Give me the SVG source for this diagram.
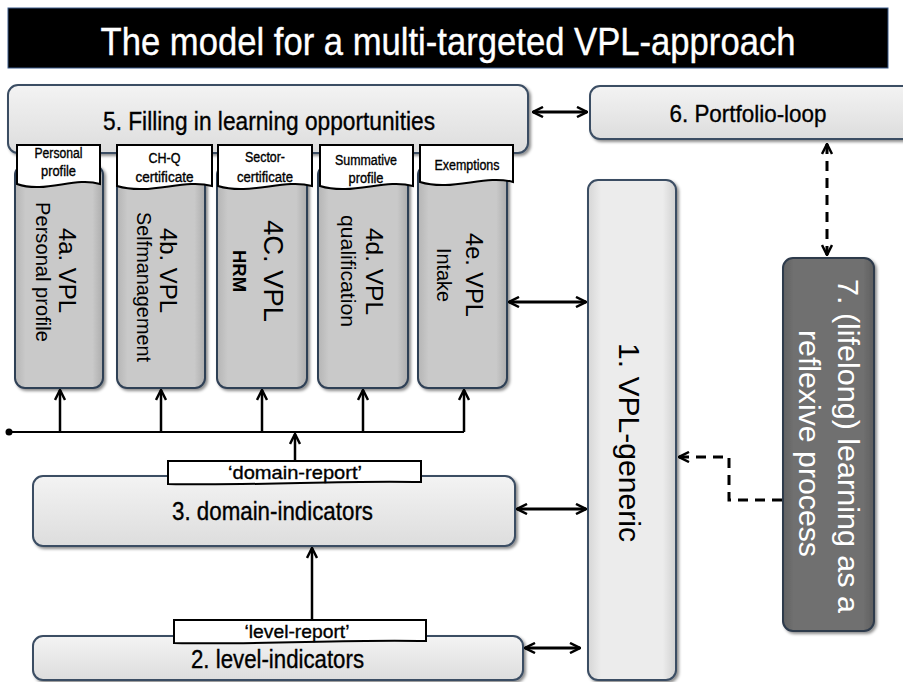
<svg xmlns="http://www.w3.org/2000/svg" width="903" height="682" viewBox="0 0 903 682">
<defs>
<style>
.t{font-family:"Liberation Sans","Arial",sans-serif;fill:#000;}
.n{font-family:"Liberation Sans Narrow","Arial Narrow","Liberation Sans",sans-serif;fill:#000;stroke:#000;stroke-width:0.35;}
.w{fill:#fff;}
.n.w{stroke:#fff;}
.box{fill:url(#lg);stroke:#3b4d63;stroke-width:2;filter:url(#sh);}
.col{fill:url(#cg);stroke:#2f3f55;stroke-width:2;filter:url(#sh);}
.doc{fill:#fff;stroke:#000;stroke-width:2;}
.ln{fill:none;stroke:#000;stroke-width:2.5;}
.dl{fill:none;stroke:#000;stroke-width:3;stroke-dasharray:10 7;}
</style>
<linearGradient id="lg" x1="0" y1="0" x2="0" y2="1"><stop offset="0" stop-color="#f3f3f3"/><stop offset="1" stop-color="#dddddd"/></linearGradient>
<linearGradient id="vg" x1="0" y1="0" x2="1" y2="0"><stop offset="0" stop-color="#d6d6d6"/><stop offset="0.15" stop-color="#ececec"/><stop offset="0.85" stop-color="#ececec"/><stop offset="1" stop-color="#d0d0d0"/></linearGradient>
<linearGradient id="cg" x1="0" y1="0" x2="1" y2="0"><stop offset="0" stop-color="#b5b5b5"/><stop offset="0.12" stop-color="#c9c9c9"/><stop offset="0.88" stop-color="#c9c9c9"/><stop offset="1" stop-color="#acacac"/></linearGradient>
<linearGradient id="dg" x1="0" y1="0" x2="1" y2="0"><stop offset="0" stop-color="#626262"/><stop offset="0.12" stop-color="#707070"/><stop offset="0.88" stop-color="#707070"/><stop offset="1" stop-color="#5e5e5e"/></linearGradient>
<filter id="sh" x="-10%" y="-10%" width="130%" height="130%"><feDropShadow dx="2" dy="2" stdDeviation="1.5" flood-color="#000" flood-opacity="0.45"/></filter>
<marker id="ah" viewBox="0 0 12 12" refX="11" refY="6" markerWidth="12" markerHeight="12" markerUnits="userSpaceOnUse" orient="auto-start-reverse"><path d="M1,1 L11,6 L1,11" fill="none" stroke="#000" stroke-width="2.5"/></marker>
</defs>
<rect width="903" height="682" fill="#fff"/>

<g id="title">
<rect x="8" y="8" width="880" height="60" fill="#000" stroke="#3a5a8a" stroke-width="1"/>
<text class="n w" x="448" y="55" font-size="39" text-anchor="middle" textLength="695" lengthAdjust="spacingAndGlyphs">The model for a multi-targeted VPL-approach</text>
</g>

<g id="node5">
<rect class="box" x="8" y="85" width="520" height="68" rx="10"/>
<text class="n" x="269" y="130" font-size="26" text-anchor="middle" textLength="332" lengthAdjust="spacingAndGlyphs">5. Filling in learning opportunities</text>
</g>

<g id="node6">
<rect class="box" x="590" y="86" width="330" height="53" rx="10"/>
<text class="n" x="748" y="122" font-size="24" text-anchor="middle" textLength="157" lengthAdjust="spacingAndGlyphs">6. Portfolio-loop</text>
</g>

<g id="node4a">
<rect class="col" x="15" y="165" width="88" height="223" rx="10"/>
<text class="t" transform="translate(59,270.5) rotate(90)" font-size="24" text-anchor="middle" textLength="85" lengthAdjust="spacingAndGlyphs">4a. VPL</text>
<text class="t" transform="translate(36,272) rotate(90)" font-size="20" text-anchor="middle" textLength="140" lengthAdjust="spacingAndGlyphs">Personal profile</text>
<path class="doc" d="M17,145 H100 V184 C75,176 45,194 17,184 Z"/>
<text class="n" x="58.5" y="158" font-size="14" text-anchor="middle" textLength="48" lengthAdjust="spacingAndGlyphs">Personal</text>
<text class="n" x="58.5" y="176" font-size="14" text-anchor="middle" textLength="35" lengthAdjust="spacingAndGlyphs">profile</text>
</g>

<g id="node4b">
<rect class="col" x="117" y="165" width="88" height="223" rx="10"/>
<text class="t" transform="translate(160,270.5) rotate(90)" font-size="24" text-anchor="middle" textLength="85" lengthAdjust="spacingAndGlyphs">4b. VPL</text>
<text class="t" transform="translate(137,287) rotate(90)" font-size="20" text-anchor="middle" textLength="150" lengthAdjust="spacingAndGlyphs">Selfmanagement</text>
<path class="doc" d="M117,145 H212 V186 C184,178 150,196 117,186 Z"/>
<text class="n" x="164.5" y="163" font-size="14" text-anchor="middle" textLength="32" lengthAdjust="spacingAndGlyphs">CH-Q</text>
<text class="n" x="164.5" y="182" font-size="14" text-anchor="middle" textLength="58" lengthAdjust="spacingAndGlyphs">certificate</text>
</g>

<g id="node4c">
<rect class="col" x="217" y="165" width="90" height="223" rx="10"/>
<text class="t" transform="translate(264,271) rotate(90)" font-size="28" text-anchor="middle" textLength="102" lengthAdjust="spacingAndGlyphs">4C. VPL</text>
<text class="t" transform="translate(233,271) rotate(90)" font-size="18" font-weight="bold" text-anchor="middle" textLength="42" lengthAdjust="spacingAndGlyphs">HRM</text>
<path class="doc" d="M218,145 H312 V186 C284,178 250,196 218,186 Z"/>
<text class="n" x="265" y="162" font-size="14" text-anchor="middle" textLength="40" lengthAdjust="spacingAndGlyphs">Sector-</text>
<text class="n" x="265" y="182" font-size="14" text-anchor="middle" textLength="56" lengthAdjust="spacingAndGlyphs">certificate</text>
</g>

<g id="node4d">
<rect class="col" x="318" y="165" width="90" height="223" rx="10"/>
<text class="t" transform="translate(366,271.5) rotate(90)" font-size="24" text-anchor="middle" textLength="87" lengthAdjust="spacingAndGlyphs">4d. VPL</text>
<text class="t" transform="translate(341,271) rotate(90)" font-size="21" text-anchor="middle" textLength="112" lengthAdjust="spacingAndGlyphs">qualification</text>
<path class="doc" d="M320,145 H413 V186 C385,178 352,196 320,186 Z"/>
<text class="n" x="366" y="165" font-size="14" text-anchor="middle" textLength="62" lengthAdjust="spacingAndGlyphs">Summative</text>
<text class="n" x="366" y="183" font-size="14" text-anchor="middle" textLength="35" lengthAdjust="spacingAndGlyphs">profile</text>
</g>

<g id="node4e">
<rect class="col" x="418" y="165" width="89" height="223" rx="10"/>
<text class="t" transform="translate(466,275) rotate(90)" font-size="24" text-anchor="middle" textLength="84" lengthAdjust="spacingAndGlyphs">4e. VPL</text>
<text class="t" transform="translate(437,275) rotate(90)" font-size="20" text-anchor="middle" textLength="54" lengthAdjust="spacingAndGlyphs">Intake</text>
<path class="doc" d="M420,145 H513 V182 C485,174 452,192 420,182 Z"/>
<text class="n" x="467" y="170" font-size="14" text-anchor="middle" textLength="65" lengthAdjust="spacingAndGlyphs">Exemptions</text>
</g>

<g id="node1">
<rect class="box" x="588" y="180" width="88" height="500" rx="10" style="fill:url(#vg)"/>
<text class="t" transform="translate(619,442.5) rotate(90)" font-size="29" text-anchor="middle" textLength="199" lengthAdjust="spacingAndGlyphs">1. VPL-generic</text>
</g>

<g id="node7">
<rect x="783" y="258" width="91" height="373" rx="10" fill="url(#dg)" stroke="#2d3a4c" stroke-width="2" filter="url(#sh)"/>
<text class="t w" transform="translate(838,446) rotate(90)" font-size="30" text-anchor="middle" textLength="334" lengthAdjust="spacingAndGlyphs">7. (lifelong) learning as a</text>
<text class="t w" transform="translate(799,443.5) rotate(90)" font-size="30" text-anchor="middle" textLength="227" lengthAdjust="spacingAndGlyphs">reflexive process</text>
</g>

<g id="node3">
<rect class="box" x="33" y="476" width="482" height="70" rx="10"/>
<text class="n" x="272.5" y="520" font-size="25" text-anchor="middle" textLength="201" lengthAdjust="spacingAndGlyphs">3. domain-indicators</text>
<path class="doc" d="M168,461 H421 V482 C340,480 260,486 168,484 Z"/>
<text class="n" x="295" y="479" font-size="19" text-anchor="middle" textLength="134" lengthAdjust="spacingAndGlyphs">‘domain-report’</text>
</g>

<g id="node2">
<rect class="box" x="33" y="636" width="490" height="44" rx="10"/>
<text class="n" x="277.5" y="668" font-size="25" text-anchor="middle" textLength="173" lengthAdjust="spacingAndGlyphs">2. level-indicators</text>
<path class="doc" d="M174,620 H426 V641 C345,639 265,645 174,643 Z"/>
<text class="n" x="297" y="638" font-size="19" text-anchor="middle" textLength="105" lengthAdjust="spacingAndGlyphs">‘level-report’</text>
</g>

<g id="connectors">
<line class="ln" x1="533" y1="112" x2="587" y2="112" marker-start="url(#ah)" marker-end="url(#ah)" style="stroke-width:3"/>
<line class="ln" x1="509" y1="302" x2="586" y2="302" marker-start="url(#ah)" marker-end="url(#ah)" style="stroke-width:3"/>
<line class="ln" x1="517" y1="509" x2="586" y2="509" marker-start="url(#ah)" marker-end="url(#ah)" style="stroke-width:3"/>
<line class="ln" x1="525" y1="648" x2="580" y2="648" marker-start="url(#ah)" marker-end="url(#ah)" style="stroke-width:3"/>
<line class="ln" x1="9" y1="432" x2="464" y2="432" style="stroke-width:2.2"/>
<circle cx="9" cy="432" r="3.5" fill="#000"/>
<line class="ln" x1="60" y1="432" x2="60" y2="390" marker-end="url(#ah)"/>
<line class="ln" x1="161" y1="432" x2="161" y2="390" marker-end="url(#ah)"/>
<line class="ln" x1="262" y1="432" x2="262" y2="390" marker-end="url(#ah)"/>
<line class="ln" x1="363" y1="432" x2="363" y2="390" marker-end="url(#ah)"/>
<line class="ln" x1="464" y1="432" x2="464" y2="390" marker-end="url(#ah)"/>
<line class="ln" x1="295" y1="461" x2="295" y2="434" marker-end="url(#ah)"/>
<line class="ln" x1="312" y1="620" x2="312" y2="548" marker-end="url(#ah)"/>
<line class="dl" x1="827" y1="144" x2="827" y2="255" marker-start="url(#ah)" marker-end="url(#ah)"/>
<polyline class="dl" points="782,500 729,500 729,457 679,457" marker-end="url(#ah)"/>
</g>
</svg>
